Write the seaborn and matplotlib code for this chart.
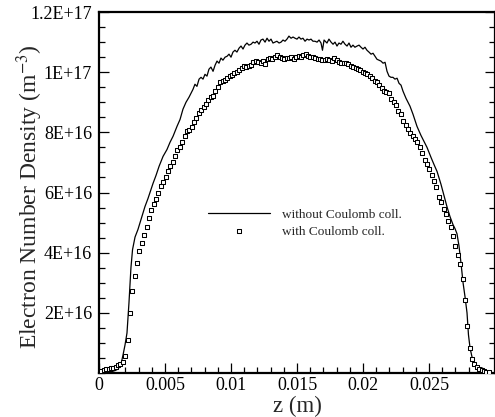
import numpy as np
import matplotlib
matplotlib.use("Agg")
import matplotlib.pyplot as plt
import seaborn as sns
from matplotlib.ticker import MultipleLocator

# data (z in m, density in units of 1e16 m^-3)
z_without = [0.0, 0.00045, 0.00083, 0.00121, 0.00144, 0.00167, 0.00182, 0.00197, 0.00212, 0.00227,
             0.00242, 0.00254, 0.00273, 0.00295, 0.00318, 0.00348, 0.00371, 0.00386, 0.00409, 0.00432,
             0.00455, 0.00485, 0.00515, 0.00538, 0.00561, 0.00591, 0.00614, 0.00636, 0.00659, 0.00682,
             0.00697, 0.00712, 0.00727, 0.00742, 0.00758, 0.00773, 0.00788, 0.00803, 0.00818, 0.00833,
             0.00848, 0.00864, 0.00879, 0.00894, 0.00909, 0.00924, 0.00939, 0.00955, 0.00970, 0.00985,
             0.01000, 0.01015, 0.01030, 0.01045, 0.01061, 0.01076, 0.01091, 0.01106, 0.01121, 0.01136,
             0.01152, 0.01167, 0.01182, 0.01197, 0.01212, 0.01227, 0.01242, 0.01258, 0.01273, 0.01288,
             0.01303, 0.01318, 0.01333, 0.01348, 0.01364, 0.01379, 0.01394, 0.01409, 0.01424, 0.01439,
             0.01455, 0.01470, 0.01485, 0.01500, 0.01515, 0.01530, 0.01545, 0.01561, 0.01576, 0.01591,
             0.01606, 0.01621, 0.01636, 0.01652, 0.01667, 0.01682, 0.01693, 0.01705, 0.01727, 0.01742,
             0.01758, 0.01773, 0.01788, 0.01803, 0.01818, 0.01833, 0.01848, 0.01864, 0.01879, 0.01894,
             0.01909, 0.01924, 0.01939, 0.01955, 0.01970, 0.01985, 0.02000, 0.02015, 0.02030, 0.02045,
             0.02061, 0.02076, 0.02091, 0.02106, 0.02121, 0.02136, 0.02152, 0.02167, 0.02182, 0.02197,
             0.02212, 0.02227, 0.02242, 0.02258, 0.02273, 0.02288, 0.02303, 0.02326, 0.02356, 0.02379,
             0.02409, 0.02439, 0.02462, 0.02485, 0.02515, 0.02538, 0.02561, 0.02591, 0.02621, 0.02636,
             0.02659, 0.02682, 0.02697, 0.02712, 0.02727, 0.02742, 0.02758, 0.02773, 0.02788, 0.02799,
             0.02811, 0.02826, 0.02841, 0.02856, 0.02871, 0.02894, 0.02917, 0.02939, 0.02962]
n_without = [0.01, 0.02, 0.03, 0.08, 0.13, 0.30, 0.60, 0.93, 1.33, 2.33,
             3.50, 4.10, 4.52, 4.77, 5.10, 5.53, 5.80, 6.00, 6.30, 6.57,
             6.87, 7.20, 7.43, 7.67, 7.87, 8.20, 8.43, 8.77, 9.00, 9.17,
             9.30, 9.43, 9.60, 9.53, 9.77, 9.83, 9.77, 9.93, 9.87, 10.10,
             10.17, 10.03, 10.23, 10.37, 10.30, 10.47, 10.40, 10.50, 10.53, 10.60,
             10.50, 10.67, 10.73, 10.67, 10.80, 10.87, 10.77, 10.90, 10.97, 10.90,
             10.93, 11.00, 10.97, 11.03, 10.93, 11.07, 11.10, 11.00, 11.13, 11.03,
             11.10, 10.97, 11.00, 11.03, 10.97, 11.00, 11.07, 11.03, 11.10, 11.20,
             11.13, 11.17, 11.13, 11.10, 11.17, 11.10, 11.13, 11.03, 11.10, 11.07,
             11.10, 11.03, 11.03, 11.00, 11.07, 10.97, 10.73, 11.07, 10.97, 11.10,
             11.00, 10.93, 11.00, 10.87, 10.97, 10.93, 11.03, 10.93, 10.87, 10.97,
             10.83, 10.90, 10.83, 10.87, 10.90, 10.83, 10.77, 10.83, 10.73, 10.67,
             10.60, 10.63, 10.53, 10.43, 10.40, 10.37, 10.30, 10.33, 10.03, 9.87,
             9.83, 9.83, 9.77, 9.80, 9.63, 9.57, 9.37, 9.13, 8.87, 8.60,
             8.20, 7.90, 7.70, 7.50, 7.17, 6.93, 6.70, 6.27, 5.77, 5.53,
             5.20, 4.93, 4.80, 4.63, 4.23, 3.67, 3.00, 2.53, 2.00, 1.27,
             0.83, 0.53, 0.37, 0.27, 0.20, 0.12, 0.07, 0.03, 0.01]

z_with = [0.0, 0.00018, 0.00036, 0.00054, 0.00072, 0.00090, 0.00108, 0.00126, 0.00144, 0.00162,
          0.00180, 0.00198, 0.00216, 0.00234, 0.00252, 0.00270, 0.00288, 0.00306, 0.00324, 0.00342,
          0.00360, 0.00378, 0.00396, 0.00414, 0.00432, 0.00450, 0.00468, 0.00486, 0.00504, 0.00522,
          0.00540, 0.00558, 0.00576, 0.00594, 0.00612, 0.00630, 0.00648, 0.00666, 0.00684, 0.00702,
          0.00720, 0.00738, 0.00756, 0.00774, 0.00792, 0.00810, 0.00828, 0.00846, 0.00864, 0.00882,
          0.00900, 0.00918, 0.00936, 0.00954, 0.00972, 0.00990, 0.01008, 0.01026, 0.01044, 0.01062,
          0.01080, 0.01098, 0.01116, 0.01134, 0.01152, 0.01170, 0.01188, 0.01206, 0.01224, 0.01242,
          0.01260, 0.01278, 0.01296, 0.01314, 0.01332, 0.01350, 0.01368, 0.01386, 0.01404, 0.01422,
          0.01440, 0.01458, 0.01476, 0.01494, 0.01512, 0.01530, 0.01548, 0.01566, 0.01584, 0.01602,
          0.01620, 0.01638, 0.01656, 0.01674, 0.01692, 0.01710, 0.01728, 0.01746, 0.01764, 0.01782,
          0.01800, 0.01818, 0.01836, 0.01854, 0.01872, 0.01890, 0.01908, 0.01926, 0.01944, 0.01962,
          0.01980, 0.01998, 0.02016, 0.02034, 0.02052, 0.02070, 0.02088, 0.02106, 0.02124, 0.02142,
          0.02160, 0.02178, 0.02196, 0.02214, 0.02232, 0.02250, 0.02268, 0.02286, 0.02304, 0.02322,
          0.02340, 0.02358, 0.02376, 0.02394, 0.02412, 0.02430, 0.02448, 0.02466, 0.02484, 0.02502,
          0.02520, 0.02538, 0.02556, 0.02574, 0.02592, 0.02610, 0.02628, 0.02646, 0.02664, 0.02682,
          0.02700, 0.02718, 0.02736, 0.02754, 0.02772, 0.02790, 0.02808, 0.02826, 0.02844, 0.02862,
          0.02880, 0.02898, 0.02916, 0.02934, 0.02952]
n_with = [0.04, 0.07, 0.10, 0.12, 0.14, 0.16, 0.18, 0.21, 0.25, 0.30,
          0.37, 0.58, 1.10, 1.98, 2.72, 3.22, 3.67, 4.04, 4.32, 4.60,
          4.87, 5.14, 5.41, 5.61, 5.77, 5.99, 6.21, 6.36, 6.50, 6.70,
          6.88, 7.01, 7.22, 7.40, 7.53, 7.69, 7.89, 8.06, 8.09, 8.18,
          8.35, 8.47, 8.63, 8.75, 8.83, 8.95, 9.08, 9.17, 9.22, 9.36,
          9.51, 9.66, 9.70, 9.75, 9.80, 9.86, 9.91, 9.96, 10.01, 10.08,
          10.14, 10.19, 10.16, 10.22, 10.25, 10.34, 10.37, 10.33, 10.31, 10.38,
          10.28, 10.45, 10.47, 10.44, 10.52, 10.57, 10.50, 10.46, 10.43, 10.47,
          10.48, 10.49, 10.45, 10.52, 10.54, 10.50, 10.58, 10.60, 10.53, 10.49,
          10.51, 10.46, 10.43, 10.45, 10.42, 10.41, 10.44, 10.39, 10.38, 10.46,
          10.40, 10.35, 10.32, 10.30, 10.29, 10.26, 10.21, 10.18, 10.15, 10.10,
          10.06, 10.01, 9.97, 9.94, 9.87, 9.80, 9.72, 9.66, 9.58, 9.48,
          9.39, 9.35, 9.30, 9.12, 9.02, 8.91, 8.70, 8.62, 8.39, 8.24,
          8.10, 7.98, 7.88, 7.77, 7.67, 7.50, 7.32, 7.09, 6.95, 6.77,
          6.59, 6.38, 6.19, 5.85, 5.68, 5.45, 5.28, 5.06, 4.84, 4.55,
          4.22, 3.93, 3.64, 3.12, 2.42, 1.55, 0.83, 0.45, 0.30, 0.21,
          0.14, 0.10, 0.07, 0.05, 0.02]

x_ticks = [0, 0.005, 0.01, 0.015, 0.02, 0.025]
x_tick_labels = ["0", "0.005", "0.01", "0.015", "0.02", "0.025"]
y_ticks = [2e16, 4e16, 6e16, 8e16, 1e17, 1.2e17]
y_tick_labels = ["2E+16", "4E+16", "6E+16", "8E+16", "1E+17", "1.2E+17"]

sns.set_style("white")
plt.rcParams["font.family"] = ["Liberation Serif", "DejaVu Serif"]
plt.rcParams["mathtext.fontset"] = "stix"

fig = plt.figure(figsize=(4.95, 4.17), dpi=100)
ax = fig.add_axes([0.2, 0.1055, 0.8, 0.8656])

sns.lineplot(x=np.array(z_without), y=np.array(n_without) * 1e16, ax=ax, color="black",
             linewidth=0.9, sort=False, label="without Coulomb coll.")
sns.scatterplot(x=np.array(z_with), y=np.array(n_with) * 1e16, ax=ax, marker="s", s=9,
                facecolor="white", edgecolor="black", linewidth=0.75, zorder=3,
                label="with Coulomb coll.")

ax.set_xlim(0, 0.03)
ax.set_ylim(0, 1.2e17)
ax.set_xticks(x_ticks)
ax.set_xticklabels(x_tick_labels)
ax.set_yticks(y_ticks)
ax.set_yticklabels(y_tick_labels)
ax.xaxis.set_minor_locator(MultipleLocator(0.001))
ax.yaxis.set_minor_locator(MultipleLocator(5e15))
ax.tick_params(which="both", direction="in", left=True, right=True, bottom=True, top=False,
               width=0.9, labelsize=13, colors="black")
ax.tick_params(which="major", length=7)
ax.tick_params(which="minor", length=4.5)
ax.tick_params(axis="x", pad=3)
ax.tick_params(axis="y", pad=5)
for sp in ax.spines.values():
    sp.set_linewidth(1.6)
    sp.set_color("black")

ax.set_xlabel("z (m)", fontsize=16.5)
ax.set_ylabel("Electron Number Density (m$^{-3}$)", fontsize=17)
ax.xaxis.set_label_coords(0.5, -0.063)
ax.yaxis.set_label_coords(-0.137, 0.49)

ax.legend(loc="upper left", bbox_to_anchor=(0.275, 0.455), frameon=False, fontsize=9.5,
          handlelength=4.7, handletextpad=0.9, borderpad=0, borderaxespad=0,
          labelspacing=0.35, scatterpoints=1)

fig.savefig("out.png", dpi=100)
